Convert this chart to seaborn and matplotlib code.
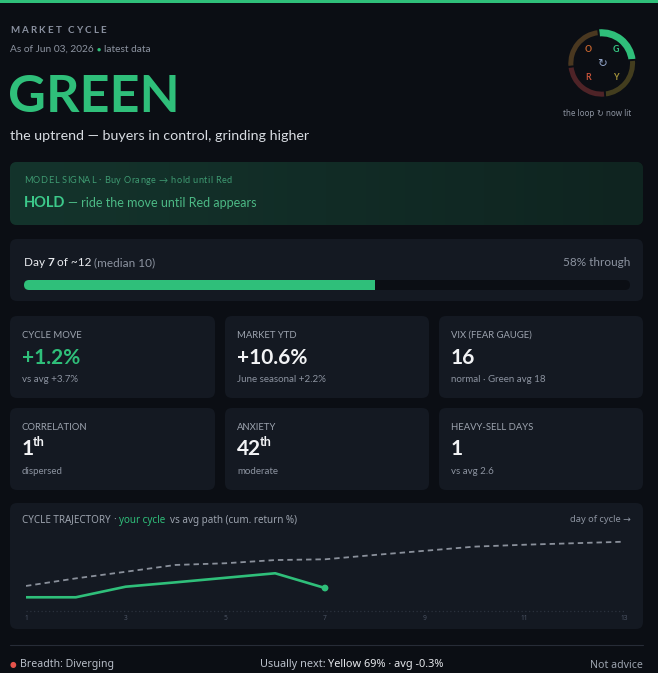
import numpy as np
import pandas as pd
import matplotlib.pyplot as plt
import seaborn as sns
from matplotlib.patches import FancyBboxPatch
from matplotlib.colors import LinearSegmentedColormap

# ---- data ----
days = list(range(1, 14))
avg_path = [1.31, 1.71, 2.06, 2.42, 2.51, 2.68, 2.72, 2.95, 3.17, 3.39, 3.49, 3.57, 3.65]
cycle_days = [1, 2, 3, 4, 5, 6, 7]
cycle_path = [0.71, 0.71, 1.27, 1.50, 1.74, 1.98, 1.20]
tick_days = [1, 3, 5, 7, 9, 11, 13]

phase_labels = ['G', 'Y', 'R', 'O']
phase_share = [1, 1, 1, 1]

day_now = 7
day_total = 12
day_median = 10
pct_through = 58

card_labels = ['CYCLE MOVE', 'MARKET YTD', 'VIX (FEAR GAUGE)',
               'CORRELATION', 'ANXIETY', 'HEAVY-SELL DAYS']
card_values = ['+1.2%', '+10.6%', '16', '1', '42', '1']
card_sups = ['', '', '', 'th', 'th', '']
card_subs = ['vs avg +3.7%', 'June seasonal +2.2%', 'normal · Green avg 18',
             'dispersed', 'moderate', 'vs avg 2.6']

# ---- style ----
W, H = 658, 673
BG = '#0b0e14'
CARD = '#141922'
GREEN = '#2fbf7a'
GREY = '#8c93a0'
LIGHT = '#e8eaee'
MAIN = ['Lato', 'DejaVu Sans']
ALT = ['Noto Sans', 'DejaVu Sans']

sns.set_theme(style='dark', rc={'axes.facecolor': 'none', 'figure.facecolor': BG})
plt.rcParams['font.family'] = MAIN

fig = plt.figure(figsize=(W / 100, H / 100), dpi=100)
fig.patch.set_facecolor(BG)
bg = fig.add_axes([0, 0, 1, 1])
bg.set_xlim(0, W)
bg.set_ylim(H, 0)
bg.axis('off')
renderer = fig.canvas.get_renderer()


def width_of(t):
    return t.get_window_extent(renderer).width


def runs(x, y, parts, ha='left', family=MAIN):
    # parts: (text, color, weight, size, gap_after_px)
    items = []
    for s, color, weight, size, gap in parts:
        t = bg.text(0, y, s, fontsize=size, color=color, fontweight=weight,
                    family=family, va='baseline', ha='left', zorder=5)
        items.append((t, width_of(t) + gap))
    total = sum(w for _, w in items)
    if ha == 'right':
        x = x - total
    elif ha == 'center':
        x = x - total / 2
    for t, w in items:
        t.set_x(x)
        x += w


def spaced(x, y, s, track, size, color, weight='normal', family=MAIN, sw=3):
    for ch in s:
        if ch == ' ':
            x += sw
            continue
        t = bg.text(x, y, ch, fontsize=size, color=color, fontweight=weight,
                    family=family, va='baseline', ha='left', zorder=5)
        x += width_of(t) + track


def card(x0, y0, x1, y1, color=CARD, r=7):
    p = FancyBboxPatch((x0, y0), x1 - x0, y1 - y0,
                       boxstyle=f'round,pad=0,rounding_size={r}',
                       fc=color, ec='none', zorder=1)
    bg.add_patch(p)
    return p


# top accent bar
bg.fill_between([0, W], 0, 3, color=GREEN, lw=0, zorder=2)

# ---- header ----
spaced(10, 33, 'MARKET CYCLE', 2.2, 7, '#8a91a0', weight='bold', sw=4)
runs(10, 52, [('As of Jun 03, 2026', GREY, 'normal', 7.3, 3),
              ('●', GREEN, 'normal', 5, 2.5),
              ('latest data', GREY, 'normal', 7.3, 0)])
bg.text(8, 112.5, 'GREEN', fontsize=37.5, fontweight='bold', color=GREEN,
        va='baseline', ha='left')
bg.text(10, 140, 'the uptrend — buyers in control, grinding higher',
        fontsize=10.3, color='#d8dce2', va='baseline', ha='left')

# ---- phase ring ----
cx, cy, R = 601.7, 63.3, 36
rax = fig.add_axes([(cx - R) / W, 1 - (cy + R) / H, 2 * R / W, 2 * R / H])
wedges, _ = rax.pie(phase_share, startangle=96, counterclock=False,
                    colors=[GREEN, '#433d1e', '#4e2327', '#4a3820'],
                    wedgeprops=dict(width=0.2, edgecolor=BG, linewidth=1.3))
wedges[0].set_radius(1.02)
wedges[0].set_width(0.26)
rax.set_xlim(-1.05, 1.05)
rax.set_ylim(-1.05, 1.05)
rax.set_aspect('equal')
rax.axis('off')
letter_pos = {'O': (-14, -13.5), 'G': (14, -13.5), 'R': (-14, 14), 'Y': (14, 14)}
letter_col = {'O': '#c0622e', 'G': '#35c481', 'R': '#c4523a', 'Y': '#a6953a'}
for lab in phase_labels:
    dx, dy = letter_pos[lab]
    bg.text(cx + dx, cy + dy, lab, fontsize=6.3, fontweight='bold',
            color=letter_col[lab], ha='center', va='center', zorder=5)
bg.text(cx, cy, '↻', fontsize=8.5, color='#8ea0c4', ha='center', va='center',
        family=['DejaVu Sans'], zorder=5)
runs(597, 116, [('the loop', GREY, 'normal', 5.8, 2.5),
                ('↻', GREY, 'normal', 5.8, 2.5),
                ('now lit', GREY, 'normal', 5.8, 0)], ha='center', family=ALT)

# ---- model signal ----
sig = card(10, 162, 643, 225, color='#11291f')
grad = np.linspace(0, 1, 256).reshape(1, -1)
cmap = LinearSegmentedColormap.from_list('sig', ['#14342c', '#0f2420'])
im = bg.imshow(grad, extent=[10, 643, 225, 162], cmap=cmap, aspect='auto', zorder=1.5)
im.set_clip_path(sig)
bg.set_xlim(0, W)
bg.set_ylim(H, 0)
spaced(24, 183, 'MODEL SIGNAL · Buy Orange → hold until Red', 0.45, 6.6, '#3f9a72', sw=2.6)
runs(24, 207, [('HOLD', '#3cc98a', 'bold', 10.5, 3),
               ('— ride the move until Red appears', '#4cb985', 'normal', 9, 0)])

# ---- progress ----
card(10, 239, 643, 301)
runs(24, 266, [('Day ', LIGHT, 'normal', 8.5, 0),
               (f'{day_now}', LIGHT, 'bold', 8.5, 2.3),
               (f'of ~{day_total}', LIGHT, 'normal', 8.5, 2.3),
               (f'(median {day_median})', GREY, 'normal', 8.5, 0)])
runs(630, 266, [(f'{pct_through}% through', GREY, 'normal', 8.5, 0)], ha='right')
track = FancyBboxPatch((24, 280), 606, 10, boxstyle='round,pad=0,rounding_size=5',
                       fc='#0b0e14', ec='none', zorder=2)
bg.add_patch(track)
pax = fig.add_axes([24 / W, 1 - 290 / H, 606 / W, 10 / H])
bars = pax.barh([0], [pct_through], height=1, left=0, color=GREEN, lw=0)
for b in bars:
    b.set_clip_path(track)
pax.set_xlim(0, 100)
pax.set_ylim(-0.5, 0.5)
pax.axis('off')

# ---- stat cards ----
cols = [(10, 215), (225, 429), (439, 643)]
rows = [(316, 398, 337.5, 364, 381.5), (408, 490, 430, 455, 474)]
for i in range(6):
    x0, x1 = cols[i % 3]
    y0, y1, yl, yv, ys = rows[i // 3]
    card(x0, y0, x1, y1)
    lx = x0 + 12
    runs(lx, yl, [(card_labels[i], '#9ca3ae', 'normal', 6.8, 0)])
    vcol = GREEN if i == 0 else '#f2f3f5'
    t = bg.text(lx, yv, card_values[i], fontsize=15, fontweight='bold',
                color=vcol, va='baseline', ha='left', zorder=5)
    if card_sups[i]:
        bg.text(lx + width_of(t) - 1.2, yv - 8.5, card_sups[i], fontsize=9,
                fontweight='bold', color='#f2f3f5', va='baseline', ha='left', zorder=5)
    runs(lx, ys, [(card_subs[i], GREY, 'normal', 7, 0)])

# ---- trajectory ----
card(10, 503, 643, 629)
runs(22, 522.5, [('CYCLE TRAJECTORY', '#9ca3ae', 'normal', 7.1, 2.2),
                 ('·', '#9ca3ae', 'normal', 7.1, 3.6),
                 ('your cycle', GREEN, 'bold', 7.1, 4.2),
                 ('vs avg path (cum. return %)', '#9ca3ae', 'normal', 7.1, 0)],
     family=ALT)
runs(631, 522.5, [('day of cycle →', GREY, 'normal', 6.7, 0)], ha='right', family=ALT)

ax = fig.add_axes([26 / W, 1 - 610.7 / H, 598 / W, 75.6 / H])
ax.set_facecolor('none')
ax.axhline(0, color='#2b313d', lw=0.9, ls=(0, (1, 2)), clip_on=False)
sns.lineplot(x=days, y=avg_path, ax=ax, color='#8a909b', lw=1.3,
             linestyle=(0, (3, 2.2)))
sns.lineplot(x=cycle_days, y=cycle_path, ax=ax, color=GREEN, lw=1.9)
sns.scatterplot(x=cycle_days[-1:], y=cycle_path[-1:], ax=ax, color=GREEN,
                s=24, edgecolor='none', zorder=4)
ax.set_xlim(1, 13)
ax.set_ylim(0, 4)
ax.set_xticks(tick_days)
ax.set_xticklabels([str(d) for d in tick_days], fontsize=4.8, color='#4b5363',
                   family=ALT)
ax.set_yticks([])
ax.tick_params(axis='x', length=0, pad=3)
ax.set_xlabel('')
ax.set_ylabel('')
ax.grid(False)
for s in ax.spines.values():
    s.set_visible(False)

# ---- footer ----
bg.plot([10, 643], [644.5, 644.5], color='#272c37', lw=0.8, zorder=2)
runs(10, 667.5, [('●', '#e5534b', 'normal', 5.5, 3),
                 ('Breadth: Diverging', '#b9bfc9', 'normal', 7.6, 0)], family=ALT)
runs(352, 667.5, [('Usually next:', '#b9bfc9', 'normal', 7.9, 2.6),
                  ('Yellow 69% · avg -0.3%', '#e6e8ec', 'bold', 7.9, 0)],
     ha='center', family=ALT)
runs(643, 667.5, [('Not advice', '#9ca3ae', 'normal', 7.6, 0)], ha='right', family=ALT)

fig.savefig('out.png', dpi=100, facecolor=BG)
